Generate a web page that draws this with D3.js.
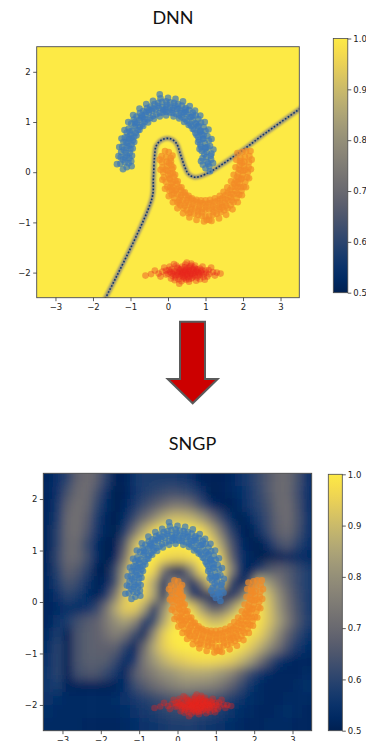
<!DOCTYPE html>
<html><head><meta charset="utf-8">
<script src="https://cdn.jsdelivr.net/npm/d3@7"></script>
<style>body{margin:0;background:#fff}svg{display:block}</style>
</head><body><svg id="c" width="366" height="741"></svg>
<script>
// ---------- DATA ----------
const xTicks=[-3,-2,-1,0,1,2,3];
const yTicks=[-2,-1,0,1,2];
const cbTicks=[0.5,0.6,0.7,0.8,0.9,1.0];
const xDomain=[-3.5,3.5];
const yDomain=[-2.5,2.5];
const titles=["DNN","SNGP"];

const blueMoon=[[1.05,0.20],[0.93,0.15],[1.15,0.25],[1.00,0.08],[1.10,0.12],[1.02,0.30],[0.92,0.28],[1.14,0.33],
[1.03,0.40],[0.90,0.42],[1.16,0.37],[0.97,0.36],[1.00,0.49],[0.88,0.50],[1.12,0.52],[0.98,0.58],[0.86,0.55],[1.09,0.63],[0.93,0.66],
[0.94,0.67],[0.83,0.64],[1.05,0.72],[0.90,0.75],[0.80,0.70],[1.00,0.82],[0.85,0.80],[0.85,0.83],[0.73,0.78],[0.95,0.90],
[0.79,0.91],[0.70,0.85],[0.88,0.99],[0.75,0.96],[0.73,0.98],[0.62,0.92],[0.81,1.06],[0.66,1.04],[0.58,0.97],[0.74,1.13],[0.62,1.10],
[0.58,1.10],[0.50,1.02],[0.66,1.19],[0.50,1.15],[0.45,1.06],[0.56,1.24],[0.47,1.20],[0.42,1.19],[0.36,1.10],[0.47,1.28],
[0.33,1.23],[0.30,1.13],[0.37,1.33],[0.28,1.27],[0.24,1.26],[0.21,1.16],[0.27,1.36],[0.14,1.28],[0.12,1.18],[0.16,1.38],[0.10,1.24],
[0.05,1.29],[0.04,1.19],[0.06,1.39],[-0.05,1.30],[-0.05,1.20],[-0.05,1.41],[-0.08,1.25],[-0.15,1.30],[-0.14,1.19],[-0.16,1.40],
[-0.24,1.28],[-0.22,1.18],[-0.26,1.38],[-0.22,1.55],[-0.33,1.25],[-0.31,1.15],[-0.36,1.36],[-0.43,1.23],[-0.40,1.12],[-0.47,1.31],[-0.40,1.27],
[-0.51,1.19],[-0.47,1.08],[-0.56,1.28],[-0.60,1.15],[-0.55,1.05],[-0.66,1.22],[-0.58,1.20],[-0.68,1.10],[-0.62,1.00],[-0.75,1.18],
[-0.76,1.04],[-0.69,0.95],[-0.84,1.11],[-0.72,1.08],[-0.83,0.98],[-0.75,0.90],[-0.91,1.05],[-0.89,0.91],[-0.80,0.84],[-0.98,0.97],[-0.86,0.95],
[-0.95,0.83],[-0.86,0.78],[-1.05,0.87],[-1.00,0.75],[-0.90,0.71],[-1.10,0.79],[-0.98,0.68],[-1.04,0.66],[-0.94,0.63],[-1.15,0.69],
[-1.08,0.58],[-0.97,0.55],[-1.19,0.60],[-1.05,0.52],[-1.11,0.48],[-1.00,0.46],[-1.22,0.50],[-1.13,0.39],[-1.02,0.38],[-1.25,0.40],[-1.10,0.33],
[-1.14,0.29],[-1.03,0.28],[-1.26,0.30],[-1.15,0.20],[-1.05,0.18],[-1.27,0.17],[-1.10,0.10],[-1.36,0.16],[1.12,0.02],
[1.20,0.18],[0.88,0.22],[1.21,0.45],[0.84,0.46],[1.16,0.66],[0.80,0.60],[1.08,0.85],[0.76,0.74],[0.98,1.00],[0.66,0.86],[0.86,1.13],[0.55,0.94],
[0.72,1.23],[0.43,1.00],[0.58,1.32],[0.30,1.07],[0.40,1.41],[0.15,1.11],[0.20,1.46],[-0.05,1.13],[0.00,1.48],[-0.22,1.11],[-0.20,1.47],[-0.38,1.06],
[-0.40,1.42],[-0.53,0.99],[-0.58,1.36],[-0.66,0.92],[-0.76,1.27],[-0.76,0.84],[-0.93,1.14],[-0.84,0.73],[-1.06,1.00],[-0.90,0.60],[-1.16,0.84],
[-0.94,0.47],[-1.24,0.67],[-0.96,0.33],[-1.30,0.50],[-0.98,0.22],[-1.32,0.32],[-1.20,0.06],[-0.97,0.12],
[0.99,0.47],[0.95,0.73],[0.82,0.93],[0.66,1.13],[0.46,1.25],[0.20,1.33],[-0.02,1.35],[-0.28,1.32],[-0.50,1.24],[-0.70,1.13],[-0.88,1.00],
[-1.02,0.81],[-1.12,0.60],[-1.18,0.44],[-1.20,0.25],[1.07,0.17],[0.36,1.18],[-0.12,1.24],[-0.63,1.06],[-1.08,0.70],[0.88,0.82],[1.05,0.50]];

const orangeMoon=[[-0.05,0.30],[-0.17,0.32],[0.07,0.28],[-0.08,0.42],[0.02,0.40],[-0.04,0.21],[-0.16,0.20],[0.08,0.22],
[-0.03,0.12],[-0.15,0.10],[0.09,0.14],[-0.06,0.05],[-0.01,0.03],[-0.13,0.00],[0.11,0.06],[0.01,-0.06],[-0.11,-0.10],[0.13,-0.02],[0.04,-0.12],
[0.05,-0.14],[-0.06,-0.19],[0.16,-0.09],[0.09,-0.23],[-0.02,-0.29],[0.20,-0.17],[0.06,-0.30],[0.14,-0.30],[0.04,-0.37],[0.24,-0.23],
[0.20,-0.37],[0.10,-0.45],[0.30,-0.30],[0.16,-0.42],[0.26,-0.44],[0.17,-0.52],[0.35,-0.36],[0.33,-0.50],[0.25,-0.60],[0.41,-0.41],[0.30,-0.56],
[0.40,-0.56],[0.33,-0.66],[0.47,-0.46],[0.48,-0.61],[0.41,-0.72],[0.54,-0.51],[0.45,-0.67],[0.56,-0.65],[0.50,-0.76],[0.61,-0.54],
[0.64,-0.69],[0.60,-0.80],[0.68,-0.57],[0.62,-0.74],[0.73,-0.71],[0.70,-0.83],[0.76,-0.59],[0.82,-0.73],[0.80,-0.85],[0.84,-0.61],[0.79,-0.78],
[0.91,-0.74],[0.90,-0.87],[0.92,-0.62],[1.00,-0.75],[1.00,-0.88],[1.00,-0.63],[1.03,-0.95],[1.09,-0.74],[1.10,-0.87],[1.08,-0.62],
[1.18,-0.73],[1.20,-0.85],[1.16,-0.61],[1.22,-0.79],[1.27,-0.71],[1.30,-0.83],[1.24,-0.59],[1.36,-0.69],[1.40,-0.80],[1.32,-0.57],[1.38,-0.74],
[1.44,-0.65],[1.50,-0.76],[1.39,-0.54],[1.52,-0.61],[1.59,-0.72],[1.46,-0.51],[1.55,-0.67],[1.60,-0.56],[1.67,-0.66],[1.53,-0.46],
[1.67,-0.50],[1.75,-0.60],[1.59,-0.41],[1.70,-0.56],[1.74,-0.44],[1.83,-0.52],[1.65,-0.36],[1.80,-0.37],[1.90,-0.45],[1.70,-0.30],[1.84,-0.42],
[1.86,-0.30],[1.96,-0.37],[1.76,-0.23],[1.91,-0.23],[2.02,-0.29],[1.80,-0.17],[1.94,-0.30],[1.95,-0.14],[2.06,-0.19],[1.84,-0.09],
[1.99,-0.06],[2.11,-0.10],[1.87,-0.02],[1.96,-0.12],[2.01,0.03],[2.13,0.00],[1.89,0.06],[2.03,0.12],[2.15,0.10],[1.91,0.14],[2.06,0.05],
[2.04,0.21],[2.16,0.20],[1.92,0.22],[2.05,0.30],[2.17,0.32],[1.93,0.28],[2.08,0.42],[1.98,0.40],[1.10,-0.95],[0.55,-0.82],
[-0.22,0.25],[0.12,0.33],[-0.20,0.05],[0.14,0.10],[-0.15,-0.15],[0.19,-0.05],[-0.08,-0.33],[0.26,-0.18],[0.02,-0.48],[0.36,-0.30],[0.13,-0.60],
[0.45,-0.40],[0.25,-0.72],[0.55,-0.47],[0.40,-0.82],[0.64,-0.52],[0.57,-0.90],[0.76,-0.55],[0.76,-0.95],[0.88,-0.56],[0.96,-0.98],[1.00,-0.56],
[1.16,-0.97],[1.12,-0.55],[1.36,-0.92],[1.25,-0.52],[1.55,-0.85],[1.38,-0.47],[1.72,-0.74],[1.48,-0.39],[1.86,-0.60],[1.58,-0.30],[1.97,-0.46],
[1.68,-0.18],[2.08,-0.30],[1.75,-0.05],[2.16,-0.12],[1.80,0.10],[2.21,0.06],[1.82,0.25],[2.23,0.25],[2.20,0.42],[1.85,0.38],
[0.03,0.18],[0.06,-0.02],[0.12,-0.20],[0.22,-0.34],[0.35,-0.46],[0.50,-0.56],[0.66,-0.63],[0.84,-0.67],[1.02,-0.69],[1.20,-0.67],[1.38,-0.62],
[1.54,-0.54],[1.68,-0.43],[1.79,-0.29],[1.88,-0.13],[1.94,0.04],[1.97,0.18],[0.30,-0.62],[0.90,-0.80],[1.45,-0.70],[1.85,-0.20],[0.10,-0.35]];

const redCluster=[[0.45,-2.00],[0.30,-1.98],[0.60,-2.02],[0.15,-2.03],[0.75,-1.97],[0.50,-1.92],[0.40,-2.08],[0.90,-2.01],[0.05,-1.99],[0.65,-2.10],
[0.25,-1.90],[0.55,-1.95],[0.35,-2.05],[0.80,-2.06],[0.70,-1.90],[0.20,-2.10],[1.00,-1.96],[-0.05,-2.04],[0.10,-1.93],[0.48,-2.14],
[0.62,-1.86],[0.85,-1.92],[1.10,-2.03],[0.38,-1.88],[0.28,-2.13],[0.58,-2.07],[0.95,-2.09],[-0.15,-1.98],[0.18,-1.97],[0.72,-2.04],
[0.42,-1.96],[0.52,-2.03],[0.68,-1.99],[0.33,-2.01],[0.88,-1.98],[0.12,-2.07],[0.78,-1.94],[0.02,-1.95],[1.20,-1.99],[-0.25,-2.02],
[0.46,-1.84],[0.56,-2.18],[1.05,-2.08],[0.22,-1.86],[0.66,-1.93],[-0.35,-1.96],[1.30,-2.00],[0.08,-2.12],[0.92,-1.88],[0.36,-2.17],
[-0.45,-2.03],[1.40,-2.02],[0.50,-1.80],[0.30,-2.22],[-0.60,-2.06],[0.75,-2.16],[0.62,-1.82],[0.16,-1.83],[1.15,-1.90],[0.85,-2.13],
[-0.10,-1.90],[0.44,-2.10],[0.57,-1.98],[0.27,-2.04],[0.73,-2.00],[0.47,-1.97],[0.37,-2.00],[0.63,-2.05],[0.53,-2.00],[0.83,-2.01],
[0.40,-1.99],[0.50,-2.04],[0.60,-1.96],[0.32,-1.95],[0.70,-2.07],[0.25,-2.00],[0.80,-1.99],[0.45,-2.06],[0.55,-1.91],[0.35,-1.93],
[0.65,-2.02],[0.15,-1.99],[0.95,-2.03],[0.20,-2.05],[0.75,-1.93],[0.42,-2.12],[0.58,-1.88],[0.30,-2.08],[0.85,-2.05],[0.10,-2.01],
[1.02,-2.00],[0.48,-1.95],[0.52,-2.09],[0.68,-1.95],[0.38,-2.03],[0.62,-2.12],[0.28,-1.92],[0.90,-1.95],[0.00,-2.02],[0.78,-2.10],
[-0.05,-1.96],[1.08,-1.95],[0.45,-1.89],[0.55,-2.13],[0.18,-2.15],[0.72,-1.86],[1.25,-2.06],[-0.20,-2.08],[0.05,-1.88],[0.98,-2.14]];

// DNN: confidence is 1.0 everywhere except along the decision boundary
const dnnBackground=1.0;
const dnnBoundary=[[-1.80,-2.70],[-0.43,-0.53],[-0.39,-0.13],[-0.36,0.30],[-0.31,0.53],[-0.15,0.65],[0.05,0.67],[0.22,0.58],[0.33,0.36],
[0.45,0.10],[0.55,-0.04],[0.71,-0.10],[1.00,-0.04],[1.73,0.30],[2.62,0.79],[3.70,1.36]];
const dnnBoundaryLevels=[0.8,0.56];

// SNGP: confidence (%) on a 0.25-step grid
const sngpGridX=[-3.375,-3.125,-2.875,-2.625,-2.375,-2.125,-1.875,-1.625,-1.375,-1.125,-0.875,-0.625,-0.375,-0.125,0.125,0.375,0.625,0.875,1.125,1.375,1.625,1.875,2.125,2.375,2.625,2.875,3.125,3.375];
const sngpGridY=[2.375,2.125,1.875,1.625,1.375,1.125,0.875,0.625,0.375,0.125,-0.125,-0.375,-0.625,-0.875,-1.125,-1.375,-1.625,-1.875,-2.125,-2.375];
const sngpConfidence=[
[52,55,60,68,71,68,60,51,51,56,58,58,58,58,57,55,51,51,51,52,55,58,62,66,70,70,64,55],
[52,55,64,70,71,64,55,50,51,55,58,60,62,63,62,60,55,50,51,52,54,57,61,66,70,70,63,55],
[52,57,68,72,70,61,54,50,52,57,62,66,70,74,74,70,62,54,51,50,53,57,60,64,70,71,64,55],
[52,58,70,72,68,58,52,50,54,62,70,78,86,90,90,88,82,72,62,54,50,53,58,63,69,71,65,56],
[52,60,70,72,66,57,52,50,58,72,86,95,100,100,100,100,97,88,74,60,52,50,55,62,68,70,64,56],
[52,60,70,70,62,54,50,51,66,88,98,100,100,100,100,100,100,96,84,66,54,51,50,55,63,66,60,55],
[52,62,70,70,64,54,50,52,72,92,100,100,98,96,96,98,100,100,92,70,56,52,50,50,51,52,53,53],
[52,60,68,66,60,51,50,62,82,98,100,96,74,52,53,80,97,100,96,80,56,51,57,65,68,66,62,58],
[52,58,64,62,56,51,52,62,85,100,95,85,54,78,72,53,72,92,94,62,51,60,88,82,74,67,62,58],
[52,55,60,58,54,51,57,74,92,98,95,85,53,85,85,58,52,53,54,53,66,86,96,90,80,70,63,58],
[52,53,54,54,55,60,72,86,94,94,84,55,78,92,98,95,82,68,68,80,92,98,98,92,82,72,64,58],
[52,56,58,63,66,68,74,80,84,78,58,60,84,96,100,100,96,90,90,96,100,100,98,92,84,74,65,59],
[53,58,51,64,67,68,72,76,72,62,52,78,94,100,100,100,100,100,100,100,100,98,95,88,78,68,61,56],
[54,60,51,64,67,68,68,68,60,52,70,86,94,98,100,100,100,100,100,100,98,94,88,80,72,63,57,54],
[55,60,51,64,67,67,67,62,54,57,74,82,88,92,94,96,97,97,96,94,90,84,74,64,56,53,52,52],
[56,60,51,63,65,65,62,57,52,66,72,76,80,82,85,86,86,85,82,78,70,62,56,53,52,52,52,53],
[56,58,51,51,51,51,51,51,54,62,66,70,73,76,78,78,77,76,73,68,62,56,53,52,52,52,53,54],
[55,54,53,53,53,53,53,54,55,57,59,61,63,65,66,66,65,64,62,59,56,54,53,52,52,53,53,53],
[54,53,53,53,53,53,53,53,54,55,57,58,60,61,62,62,61,60,58,56,54,53,52,52,53,54,53,52],
[53,53,53,53,52,52,52,52,53,54,55,56,57,58,58,58,57,56,55,54,53,52,52,53,53,53,52,52]];

// ---------- DRAW ----------
const svg=d3.select("#c");
const defs=svg.append("defs");
const color=d3.scaleSequential(d3.interpolateCividis).domain([0.5,1]);
const FONT="'DejaVu Sans', sans-serif";

const grad=defs.append("linearGradient").attr("id","cbgrad").attr("x1",0).attr("x2",0).attr("y1",1).attr("y2",0);
d3.range(0,1.0001,0.05).forEach(t=>grad.append("stop").attr("offset",t).attr("stop-color",color(0.5+0.5*t)));

defs.append("filter").attr("id","blurHalo").attr("x","-20%").attr("y","-20%").attr("width","140%").attr("height","140%")
  .append("feGaussianBlur").attr("stdDeviation",1.1);
defs.append("filter").attr("id","blurCore").attr("x","-20%").attr("y","-20%").attr("width","140%").attr("height","140%")
  .append("feGaussianBlur").attr("stdDeviation",0.45);
defs.append("filter").attr("id","blurField").attr("filterUnits","userSpaceOnUse")
  .attr("x",0).attr("y",430).attr("width",366).attr("height",330)
  .append("feGaussianBlur").attr("stdDeviation","4.5 5.5");

const panels=[
 {id:"dnn",x0:36.7,x1:299.3,y0:46.7,y1:297.7,cbx:333.3,cbw:14.5,cby0:38.5,cby1:292.7,title:titles[0],tx:173,ty:24},
 {id:"sngp",x0:43.3,x1:311.7,y0:473.3,y1:730.7,cbx:328.3,cbw:14,cby0:474.3,cby1:730.7,title:titles[1],tx:192.5,ty:450}
];

function drawDNN(g,x,y){
  g.append("rect").attr("x",x(xDomain[0])).attr("y",y(yDomain[1]))
   .attr("width",x(xDomain[1])-x(xDomain[0])).attr("height",y(yDomain[0])-y(yDomain[1]))
   .attr("fill",color(dnnBackground));
  const line=d3.line().x(d=>x(d[0])).y(d=>y(d[1])).curve(d3.curveCatmullRom.alpha(0.5));
  g.append("path").attr("d",line(dnnBoundary)).attr("fill","none")
   .attr("stroke",color(dnnBoundaryLevels[0])).attr("stroke-width",4.5).attr("filter","url(#blurHalo)");
  g.append("path").attr("d",line(dnnBoundary)).attr("fill","none")
   .attr("stroke",color(dnnBoundaryLevels[1])).attr("stroke-width",1.6)
   .attr("stroke-dasharray","1.6,1.8").attr("filter","url(#blurCore)");
}
function drawSNGP(g,x,y){
  const cells=[];
  sngpConfidence.forEach((row,j)=>row.forEach((v,i)=>cells.push({i,j,v})));
  const nI=sngpGridX.length,nJ=sngpGridY.length;
  const hx=(sngpGridX[1]-sngpGridX[0])/2, hy=(sngpGridY[0]-sngpGridY[1])/2;
  g.append("g").attr("filter","url(#blurField)")
   .selectAll("rect").data(cells).join("rect")
   .attr("x",d=>x(sngpGridX[d.i]-hx)-(d.i===0?25:0))
   .attr("width",d=>x(sngpGridX[d.i]+hx)-x(sngpGridX[d.i]-hx)+0.6+(d.i===0||d.i===nI-1?25:0))
   .attr("y",d=>y(sngpGridY[d.j]+hy)-(d.j===0?25:0))
   .attr("height",d=>y(sngpGridY[d.j]-hy)-y(sngpGridY[d.j]+hy)+0.6+(d.j===0||d.j===nJ-1?25:0))
   .attr("fill",d=>color(d.v/100));
}

panels.forEach((p,k)=>{
  const x=d3.scaleLinear().domain(xDomain).range([p.x0,p.x1]);
  const y=d3.scaleLinear().domain(yDomain).range([p.y1,p.y0]);
  defs.append("clipPath").attr("id","clip"+p.id).append("rect")
    .attr("x",p.x0).attr("y",p.y0).attr("width",p.x1-p.x0).attr("height",p.y1-p.y0);
  const plot=svg.append("g").attr("clip-path",`url(#clip${p.id})`);
  if(k===0) drawDNN(plot,x,y); else drawSNGP(plot,x,y);

  const scat=[[blueMoon,"#3b77b9",0.7],[orangeMoon,"#f28a26",0.7],[redCluster,"#e8261c",0.38]];
  scat.forEach(([pts,c,o])=>{
    plot.append("g").selectAll("circle").data(pts).join("circle")
      .attr("cx",d=>x(d[0])).attr("cy",d=>y(d[1])).attr("r",3.3)
      .attr("fill",c).attr("fill-opacity",o);
  });

  svg.append("rect").attr("x",p.x0).attr("y",p.y0).attr("width",p.x1-p.x0).attr("height",p.y1-p.y0)
    .attr("fill","none").attr("stroke","#4a4a4a").attr("stroke-width",0.9);

  const ax=svg.append("g").attr("transform",`translate(0,${p.y1})`)
    .call(d3.axisBottom(x).tickValues(xTicks).tickFormat(d3.format("d")).tickSize(3.5).tickPadding(2.5));
  const ay=svg.append("g").attr("transform",`translate(${p.x0},0)`)
    .call(d3.axisLeft(y).tickValues(yTicks).tickFormat(d3.format("d")).tickSize(3.5).tickPadding(2.5));
  [ax,ay].forEach(a=>{
    a.select(".domain").remove();
    a.selectAll("line").attr("stroke","#333").attr("stroke-width",0.8);
    a.selectAll("text").attr("fill","#222").style("font-family",FONT).style("font-size","8.5px");
  });

  const cy=d3.scaleLinear().domain([0.5,1]).range([p.cby1,p.cby0]);
  svg.append("rect").attr("x",p.cbx).attr("y",p.cby0).attr("width",p.cbw).attr("height",p.cby1-p.cby0)
    .attr("fill","url(#cbgrad)").attr("stroke","#4a4a4a").attr("stroke-width",0.8);
  const ac=svg.append("g").attr("transform",`translate(${p.cbx+p.cbw},0)`)
    .call(d3.axisRight(cy).tickValues(cbTicks).tickFormat(d3.format(".1f")).tickSize(3.5).tickPadding(2));
  ac.select(".domain").remove();
  ac.selectAll("line").attr("stroke","#333").attr("stroke-width",0.8);
  ac.selectAll("text").attr("fill","#222").style("font-family",FONT).style("font-size","8.5px");

  svg.append("text").attr("x",p.tx).attr("y",p.ty).attr("text-anchor","middle")
    .style("font-family","Lato, 'Noto Sans', sans-serif").style("font-size","18px").attr("fill","#111")
    .text(p.title);
});

svg.append("path")
  .attr("d","M180,321.7 L205,321.7 L205,379 L217.7,379 L192.7,403.3 L167.7,379 L180,379 Z")
  .attr("fill","#cc0000").attr("stroke","#5a5a5a").attr("stroke-width",2).attr("stroke-linejoin","miter");
</script></body></html>
